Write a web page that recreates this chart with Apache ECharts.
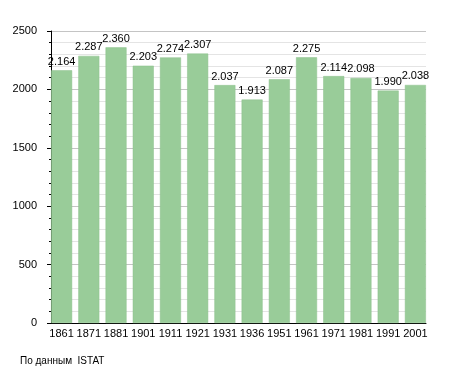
<!DOCTYPE html>
<html><head><meta charset="utf-8">
<script src="https://cdn.jsdelivr.net/npm/echarts@6/dist/echarts.min.js"></script>
<style>html,body{margin:0;padding:0;background:#fff}#c{width:455px;height:373px}</style>
</head><body><div id="c"></div>
<script>
const years = ['1861','1871','1881','1901','1911','1921','1931','1936','1951','1961','1971','1981','1991','2001'];
const population = [2164,2287,2360,2203,2274,2307,2037,1913,2087,2275,2114,2098,1990,2038];
const yMax = 2500, yStep = 500;
const chart = echarts.init(document.getElementById('c'));
const FF = 'Liberation Sans, Arial, sans-serif';
const fmt = v => { const s = String(v); return s.length > 3 ? s.slice(0, s.length-3) + '.' + s.slice(-3) : s; };
chart.setOption({
  animation:false,
  textStyle:{fontFamily:FF},
  grid:[
    {left:51,right:29,top:31,bottom:50,containLabel:false},
    {left:48,right:26,top:31,bottom:50,containLabel:false}
  ],
  xAxis:[
    {type:'category',gridIndex:0,data:years,
      axisLine:{lineStyle:{color:'#000',width:1}},axisTick:{show:false},axisLabel:{show:false}},
    {type:'category',gridIndex:1,data:years,
      axisLine:{show:false},axisTick:{show:false},
      axisLabel:{color:'#000',fontSize:11,margin:5,interval:0,fontFamily:FF}}
  ],
  yAxis:[
    {type:'value',gridIndex:0,min:0,max:yMax,interval:yStep,
      axisLine:{show:true,lineStyle:{color:'#000'}},
      axisTick:{show:true,length:4,lineStyle:{color:'#000'}},
      minorTick:{show:true,splitNumber:5,length:2,lineStyle:{color:'#000'}},
      splitLine:{show:true,lineStyle:{color:'#c4c4c4'}},
      minorSplitLine:{show:true,lineStyle:{color:'#e4e4e4'}},
      axisLabel:{color:'#000',fontSize:11,margin:14,formatter:v=>String(v),fontFamily:FF}},
    {type:'value',gridIndex:1,min:0,max:yMax,show:false,splitLine:{show:false}}
  ],
  series:[{type:'bar',xAxisIndex:1,yAxisIndex:1,data:population,barWidth:21,
    itemStyle:{color:'#99cc99',borderColor:'#8cc08c',borderWidth:0.5},
    label:{show:true,position:'top',color:'#000',fontSize:11,distance:3,formatter:p=>fmt(p.value),fontFamily:FF}}],
  graphic:[{type:'text',left:20,top:356,style:{text:'По данным  ISTAT',fontSize:10,fill:'#000',fontFamily:FF}}]
});
</script></body></html>
